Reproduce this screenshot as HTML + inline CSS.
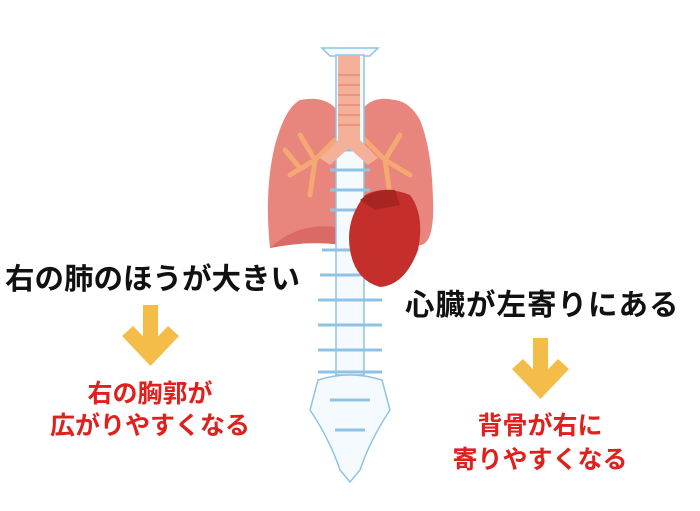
<!DOCTYPE html>
<html><head><meta charset="utf-8"><style>
body{margin:0;width:700px;height:511px;background:#fff;position:relative;overflow:hidden;font-family:"Liberation Sans","Noto Sans CJK JP",sans-serif;font-weight:bold}
.t{position:absolute;white-space:nowrap;line-height:1}
.b{color:#111;font-size:29.5px}
.r{color:#e0201c;font-size:25px;text-align:center}
</style></head><body>
<svg width="700" height="511" style="position:absolute;left:0;top:0">
<path d="M300 100 Q325 95 337 110 L342 245 Q310 240 270 248 Q264 190 275 145 Q285 108 300 100Z" fill="#e8857c"/>
<path d="M270 248 Q300 220 342 228 L342 245Q310 240 270 248Z" fill="#d96a66"/>
<path d="M395 100 Q372 95 362 110 L360 200 L415 245 Q435 250 433 200 Q432 150 420 120 Q410 102 395 100Z" fill="#e8857c"/>
<g stroke="#f4a873" stroke-width="5" fill="none" stroke-linecap="round">
<path d="M335 140 L315 160 L290 175 M315 160 L300 135 M315 160 L310 195 M300 168 L285 150"/>
<path d="M365 140 L385 160 L410 175 M385 160 L400 135 M385 160 L390 195"/>
</g>
<g fill="#f4fafe" stroke="#8fc3e3" stroke-width="1.5">
<path d="M322 48 L378 48 L370 56 L330 56Z"/>
<rect x="336" y="55" width="28" height="320"/>
<path d="M318 380 Q350 370 382 380 L390 410 Q370 440 360 470 L350 482 L340 470 Q330 440 310 410Z"/>
</g>
<g stroke="#8fc3e3" stroke-width="3">
<line x1="330" y1="150" x2="370" y2="150"/><line x1="330" y1="170" x2="370" y2="170"/><line x1="330" y1="190" x2="370" y2="190"/><line x1="330" y1="210" x2="370" y2="210"/>
<line x1="322" y1="250" x2="378" y2="250"/><line x1="320" y1="275" x2="380" y2="275"/><line x1="318" y1="300" x2="382" y2="300"/><line x1="318" y1="325" x2="382" y2="325"/><line x1="318" y1="350" x2="382" y2="350"/><line x1="318" y1="372" x2="382" y2="372"/>
<line x1="330" y1="400" x2="370" y2="400"/><line x1="335" y1="430" x2="365" y2="430"/>
</g>
<rect x="338" y="55" width="22" height="90" fill="#f5b09a"/>
<g stroke="#e88a78" stroke-width="1.5"><line x1="338" y1="75" x2="360" y2="75"/><line x1="338" y1="85" x2="360" y2="85"/><line x1="338" y1="95" x2="360" y2="95"/><line x1="338" y1="105" x2="360" y2="105"/><line x1="338" y1="115" x2="360" y2="115"/><line x1="338" y1="125" x2="360" y2="125"/></g>
<path d="M338 140 L320 158 L330 165 L349 148 L368 165 L378 158 L360 140Z" fill="#f5b09a"/>
<path d="M365 195 Q385 185 410 195 Q425 215 418 250 Q405 285 380 287 Q355 280 350 250 Q345 220 365 195Z" fill="#c42f2c"/>
<path d="M360 200 Q375 188 395 190 L400 205 L375 210Z" fill="#a82622"/>
</svg>
<div class="t b" style="left:5px;top:265px">右の肺のほうが大きい</div>
<div class="t b" style="left:405px;top:291px;letter-spacing:1px">心臓が左寄りにある</div>
<svg width="700" height="511" style="position:absolute;left:0;top:0">
<g fill="#f4bd4a">
<rect x="143" y="305" width="15" height="50"/><polygon points="122,336 133,326 150.5,344 168,326 179,336 150.5,366"/>
<rect x="533" y="338" width="15" height="50"/><polygon points="512,369 523,359 540.5,377 558,359 569,369 540.5,399"/>
</g></svg>
<div class="t r" style="left:50px;width:200px;top:382px">右の胸郭が</div>
<div class="t r" style="left:40px;width:220px;top:414px">広がりやすくなる</div>
<div class="t r" style="left:430px;width:220px;top:414px">背骨が右に</div>
<div class="t r" style="left:430px;width:220px;top:448px">寄りやすくなる</div>
</body></html>
